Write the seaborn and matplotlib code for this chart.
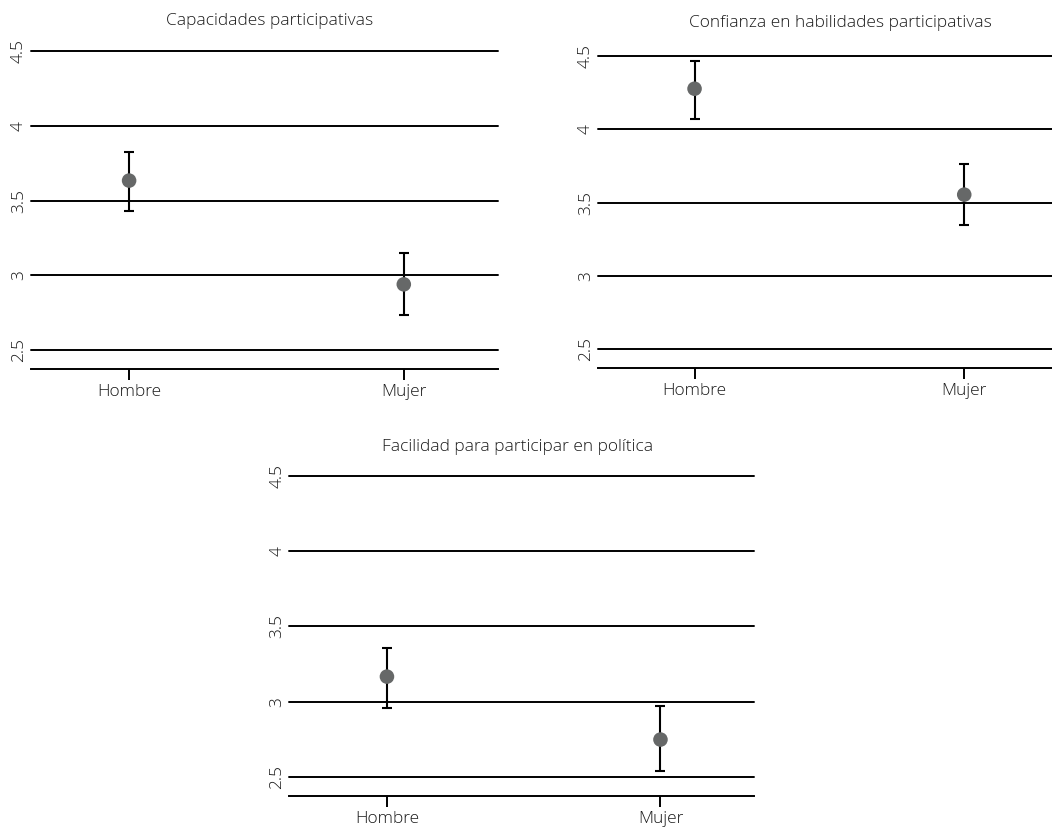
import matplotlib
matplotlib.use("Agg")
import matplotlib.pyplot as plt
import seaborn as sns
import pandas as pd

# ---- data ----
categories = ["Hombre", "Mujer"]
titles = ["Capacidades participativas",
          "Confianza en habilidades participativas",
          "Facilidad para participar en política"]

cap_mean = [3.635, 2.940]
cap_lo = [3.430, 2.735]
cap_hi = [3.826, 3.152]

conf_mean = [4.277, 3.555]
conf_lo = [4.070, 3.348]
conf_hi = [4.466, 3.766]

fac_mean = [3.166, 2.748]
fac_lo = [2.955, 2.542]
fac_hi = [3.355, 2.971]

yticks = [2.5, 3.0, 3.5, 4.0, 4.5]
ytick_labels = ["2.5", "3", "3.5", "4", "4.5"]

sns.set_theme(style="white")
plt.rcParams["font.family"] = ["Open Sans", "DejaVu Sans"]
plt.rcParams["font.weight"] = "light"
plt.rcParams["text.color"] = "#1a1a1a"
plt.rcParams["xtick.color"] = "black"
plt.rcParams["ytick.color"] = "black"
plt.rcParams["xtick.labelcolor"] = "#1a1a1a"
plt.rcParams["ytick.labelcolor"] = "#1a1a1a"

fig = plt.figure(figsize=(10.52, 8.30), dpi=100)

# axes positions: [left, bottom, width, height] in figure fraction
positions = [
    [0.0295, 0.5558, 0.4439, 0.3822],
    [0.5687, 0.5570, 0.4358, 0.3755],
    [0.2750, 0.0413, 0.4420, 0.3855],
]
title_xy = [(270 / 1052, 1 - 21 / 830), (840 / 1052, 1 - 23 / 830), (518 / 1052, 1 - 447 / 830)]

panels = [
    (cap_mean, cap_lo, cap_hi),
    (conf_mean, conf_lo, conf_hi),
    (fac_mean, fac_lo, fac_hi),
]

for i, (mean, lo, hi) in enumerate(panels):
    ax = fig.add_axes(positions[i])
    df = pd.DataFrame({"grupo": categories, "media": mean, "lo": lo, "hi": hi})
    # error bars
    yerr = [[m - l for m, l in zip(mean, lo)], [h - m for m, h in zip(mean, hi)]]
    ax.errorbar(x=range(len(categories)), y=mean, yerr=yerr, fmt="none",
                ecolor="black", elinewidth=1.5, capsize=3.6, capthick=1.5, zorder=3)
    sns.scatterplot(data=df, x="grupo", y="media", ax=ax, s=110, color="#666868",
                    edgecolor="none", zorder=4, legend=False)
    ax.set_xlim(-0.357, 1.343)
    ax.set_ylim(2.375, 4.5)
    ax.set_yticks(yticks)
    ax.set_yticklabels(ytick_labels, rotation=90, va="center", fontsize=12.5)
    ax.set_xticks(range(len(categories)))
    ax.set_xticklabels(categories, fontsize=12.5)
    ax.set_xlabel("")
    ax.set_ylabel("")
    ax.yaxis.grid(True, color="black", linewidth=1.4)
    ax.xaxis.grid(False)
    for gl in ax.get_ygridlines():
        gl.set_clip_on(False)
    for s in ["top", "right", "left"]:
        ax.spines[s].set_visible(False)
    ax.spines["bottom"].set_color("black")
    ax.spines["bottom"].set_linewidth(1.4)
    ax.tick_params(axis="x", length=8, width=1.4, color="black", pad=3, bottom=True)
    ax.tick_params(axis="y", length=0, pad=3)
    ax.set_facecolor("none")
    fig.text(title_xy[i][0], title_xy[i][1], titles[i], ha="center", va="center",
             fontsize=12.5, color="#1a1a1a")

fig.savefig("out.png", dpi=100)
